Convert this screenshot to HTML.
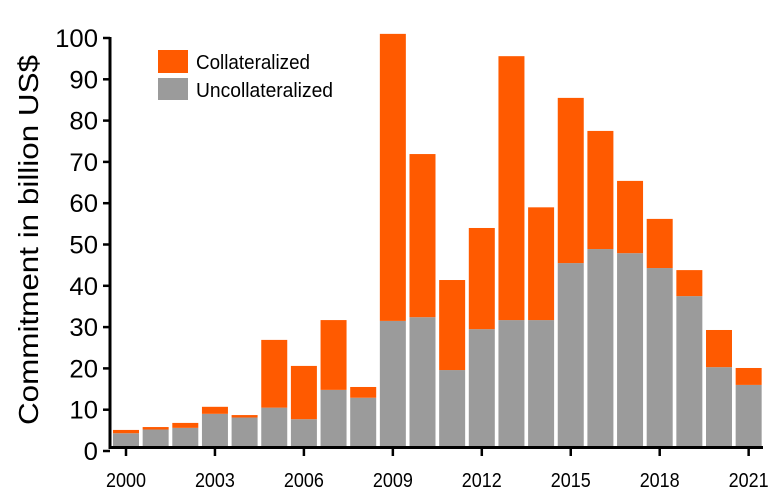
<!DOCTYPE html>
<html><head><meta charset="utf-8"><style>
body{margin:0;background:#fff}
svg{display:block;font-family:"Liberation Sans Narrow","Liberation Sans",sans-serif}
</style></head><body>
<svg id="c" width="778" height="501"></svg>
<script>
const years=[2000,2001,2002,2003,2004,2005,2006,2007,2008,2009,2010,2011,2012,2013,2014,2015,2016,2017,2018,2019,2020,2021];
const uncollateralized=[4.3,5.2,5.6,9.0,8.1,10.5,7.7,14.8,12.9,31.5,32.4,19.6,29.5,31.7,31.7,45.5,48.9,47.9,44.3,37.5,20.3,16.0];
const totals=[5.1,5.8,6.8,10.7,8.7,26.9,20.6,31.7,15.5,101,71.9,41.4,54,95.6,59,85.5,77.5,65.4,56.2,43.8,29.3,20.1];
const yTicks=[0,10,20,30,40,50,60,70,80,90,100];
const xTickYears=[2000,2003,2006,2009,2012,2015,2018,2021];
const NS="http://www.w3.org/2000/svg";
const svg=document.getElementById('c');
const y=v=>451-4.13*v;
const x=yr=>126+(yr-2000)*29.65;
const base=446;
function mk(t,a,p){const e=document.createElementNS(NS,t);for(const k in a)e.setAttribute(k,a[k]);(p||svg).appendChild(e);return e;}
years.forEach((yr,i)=>{
  const g=mk('g',{});
  
  
  const u=mk('rect',{x:x(yr)-13,y:y(uncollateralized[i]),width:26,height:base-y(uncollateralized[i]),fill:'#9b9b9b'},g);
  
  
  const c=mk('rect',{x:x(yr)-13,y:y(totals[i]),width:26,height:y(uncollateralized[i])-y(totals[i]),fill:'#ff5a00'},g);
  
  
});
const ax=mk('g',{});


mk('line',{x1:110,y1:37,x2:110,y2:449,stroke:'#000','stroke-width':3},ax);
yTicks.forEach(t=>{
  mk('line',{x1:103,y1:y(t),x2:110,y2:y(t),stroke:'#000','stroke-width':2.5},ax);
  const s=String(t);
  const tx=mk('text',{x:98,y:y(t)+9,'text-anchor':'end','font-size':25,textLength:s.length*14.3,lengthAdjust:'spacingAndGlyphs'},ax);
  tx.textContent=s;
  
  
});
const xa=mk('g',{});


mk('line',{x1:109,y1:447.5,x2:763,y2:447.5,stroke:'#000','stroke-width':3},xa);
xTickYears.forEach(t=>{
  mk('line',{x1:x(t),y1:447,x2:x(t),y2:456,stroke:'#000','stroke-width':2.5},xa);
  const tx=mk('text',{x:x(t),y:487,'text-anchor':'middle','font-size':20,textLength:40,lengthAdjust:'spacingAndGlyphs'},xa);
  tx.textContent=t;
  
  
});
</script>
<svg width="778" height="501" style="position:absolute;left:0;top:0;font-family:'Liberation Sans Narrow','Liberation Sans',sans-serif">
<text transform="translate(38,240) rotate(-90)" text-anchor="middle" font-size="28" textLength="370" lengthAdjust="spacingAndGlyphs">Commitment in billion US$</text>
<g>
<rect x="158" y="50" width="30" height="23" fill="#ff5a00"/>
<text x="196" y="69" font-size="20" textLength="114" lengthAdjust="spacingAndGlyphs">Collateralized</text>
<rect x="158" y="78" width="30" height="22" fill="#9b9b9b"/>
<text x="196" y="97" font-size="20" textLength="137" lengthAdjust="spacingAndGlyphs">Uncollateralized</text>
</g>
</svg>
</body></html>
